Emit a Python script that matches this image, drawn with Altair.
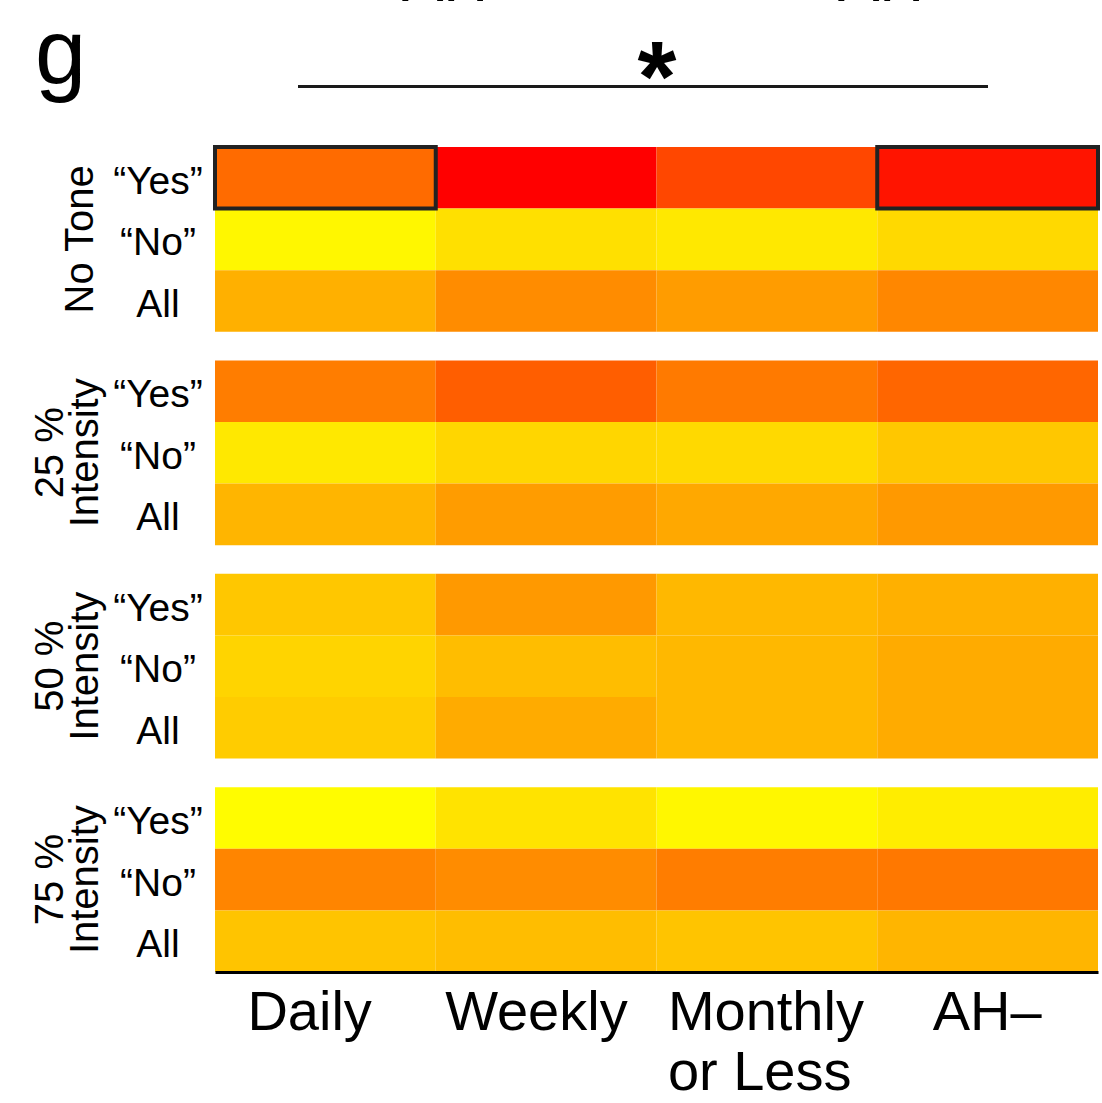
import altair as alt
import pandas as pd

# Categories
columns = ["Daily", "Weekly", "Monthly or Less", "AH–"]
groups = ["No Tone", "25 %\nIntensity", "50 %\nIntensity", "75 %\nIntensity"]
rows = ["“Yes”", "“No”", "All"]

# Normalised response per group: one list per row, one value per column
no_tone = [
    [0.42, 0.00, 0.28, 0.08],
    [0.97, 0.88, 0.91, 0.85],
    [0.69, 0.55, 0.61, 0.53],
]
int_25 = [
    [0.49, 0.37, 0.48, 0.40],
    [0.91, 0.84, 0.85, 0.78],
    [0.71, 0.61, 0.66, 0.60],
]
int_50 = [
    [0.78, 0.60, 0.72, 0.69],
    [0.83, 0.74, 0.72, 0.67],
    [0.80, 0.67, 0.72, 0.67],
]
int_75 = [
    [0.99, 0.89, 0.97, 0.93],
    [0.52, 0.55, 0.49, 0.47],
    [0.77, 0.74, 0.77, 0.71],
]
group_values = [no_tone, int_25, int_50, int_75]

# Cells outlined as the compared pair
highlight = [("No Tone", "“Yes”", "Daily"), ("No Tone", "“Yes”", "AH–")]

GAP = 0.465  # blank space between groups, in row units
TOTAL = len(groups) * len(rows) + (len(groups) - 1) * GAP

records = []
for gi, (g, vals) in enumerate(zip(groups, group_values)):
    for ri, r in enumerate(rows):
        top = gi * (len(rows) + GAP) + ri
        for ci, c in enumerate(columns):
            records.append({
                "group": g, "row": r, "col": c, "value": vals[ri][ci],
                "y0": top, "y1": top + 1, "ymid": top + 0.5,
                "gmid": gi * (len(rows) + GAP) + len(rows) / 2,
                "multi": "\n" in g,
            })
df = pd.DataFrame(records)
labels_df = df.drop_duplicates(["group", "row"])
groups_df = df.drop_duplicates(["group"])
hl_df = pd.concat(
    [df[(df.group == g) & (df.row == r) & (df.col == c)] for g, r, c in highlight]
)

FONT = "Liberation Sans"

# Column labels are left-aligned, each nudged within its column
label_offset = {
    "condition": [
        {"test": "datum.value == 'Daily'", "value": -78},
        {"test": "datum.value == 'Weekly'", "value": -101},
        {"test": "datum.value == 'AH–'", "value": -55},
    ],
    "value": -99,
}

x_enc = alt.X(
    "col:N",
    sort=columns,
    scale=alt.Scale(paddingInner=0, paddingOuter=0),
    axis=alt.Axis(
        title=None, labelAngle=0, ticks=False, tickSize=0, labelPadding=13,
        labelFontSize=56, labelFont=FONT, labelColor="black", labelLimit=600,
        labelLineHeight=60, labelAlign="left", labelOffset=label_offset,
        domainColor="black", domainWidth=3,
        labelExpr="datum.label == 'Monthly or Less' ? ['Monthly', 'or Less'] : datum.label",
    ),
)
y_scale = alt.Scale(domain=[0, TOTAL], reverse=True, nice=False, zero=False)

heat = alt.Chart(df).mark_rect().encode(
    x=x_enc,
    y=alt.Y("y0:Q", scale=y_scale, axis=None),
    y2="y1:Q",
    color=alt.Color(
        "value:Q",
        scale=alt.Scale(domain=[0, 1], range=["#ff0000", "#ffff00"], interpolate="rgb"),
        legend=None,
    ),
)

boxes = alt.Chart(hl_df).mark_rect(
    fill=None, fillOpacity=0, stroke="#222222", strokeWidth=4
).encode(
    x=alt.X("col:N", sort=columns),
    y=alt.Y("y0:Q", scale=y_scale),
    y2="y1:Q",
)

row_labels = alt.Chart(labels_df).mark_text(
    font=FONT, fontSize=39, align="center", baseline="middle", color="black", dy=4
).encode(
    x=alt.value(-57),
    y=alt.Y("ymid:Q", scale=y_scale),
    text="row:N",
)

group_single = alt.Chart(groups_df).transform_filter("!datum.multi").mark_text(
    font=FONT, fontSize=40, angle=270, align="center", baseline="alphabetic",
    color="black",
).encode(
    x=alt.value(-122),
    y=alt.Y("gmid:Q", scale=y_scale),
    text="group:N",
)

group_multi = alt.Chart(groups_df).transform_filter("datum.multi").mark_text(
    font=FONT, fontSize=40, angle=270, align="center", baseline="alphabetic",
    color="black", lineBreak="\n", lineHeight=35,
).encode(
    x=alt.value(-152),
    y=alt.Y("gmid:Q", scale=y_scale),
    text="group:N",
)

# Panel letter, comparison bar and asterisk above the heatmap
panel = alt.Chart(pd.DataFrame({"t": ["g"]})).mark_text(
    font=FONT, fontSize=92, align="left", baseline="alphabetic", color="black"
).encode(x=alt.value(-180), y=alt.value(-63), text="t:N")

top_labels = alt.Chart(pd.DataFrame({"t": ["AH+", "AH–"], "px": [187, 623]})).mark_text(
    font=FONT, fontSize=62, align="left", baseline="alphabetic", color="black"
).encode(x=alt.X("px:Q", scale=None), y=alt.value(-146), text="t:N")

bar = alt.Chart(pd.DataFrame({"a": [0]})).mark_rule(
    color="#1a1a1a", strokeWidth=3
).encode(x=alt.value(83), x2=alt.value(773), y=alt.value(-60.5))

star = alt.Chart(pd.DataFrame({"t": ["*"]})).mark_text(
    font=FONT, fontSize=100, fontWeight="bold", align="center", baseline="alphabetic",
    color="black",
).encode(x=alt.value(442), y=alt.value(-36), text="t:N")

chart = alt.layer(
    heat, boxes, row_labels, group_single, group_multi, panel, top_labels, bar, star
).properties(
    width=883,
    height=825,
    padding={"left": 215, "top": 147, "right": 4, "bottom": 131},
    autosize=alt.AutoSizeParams(type="none"),
    background="white",
).configure_view(stroke=None)

chart.save("out.html", embed_options={"renderer": "svg", "actions": False})
